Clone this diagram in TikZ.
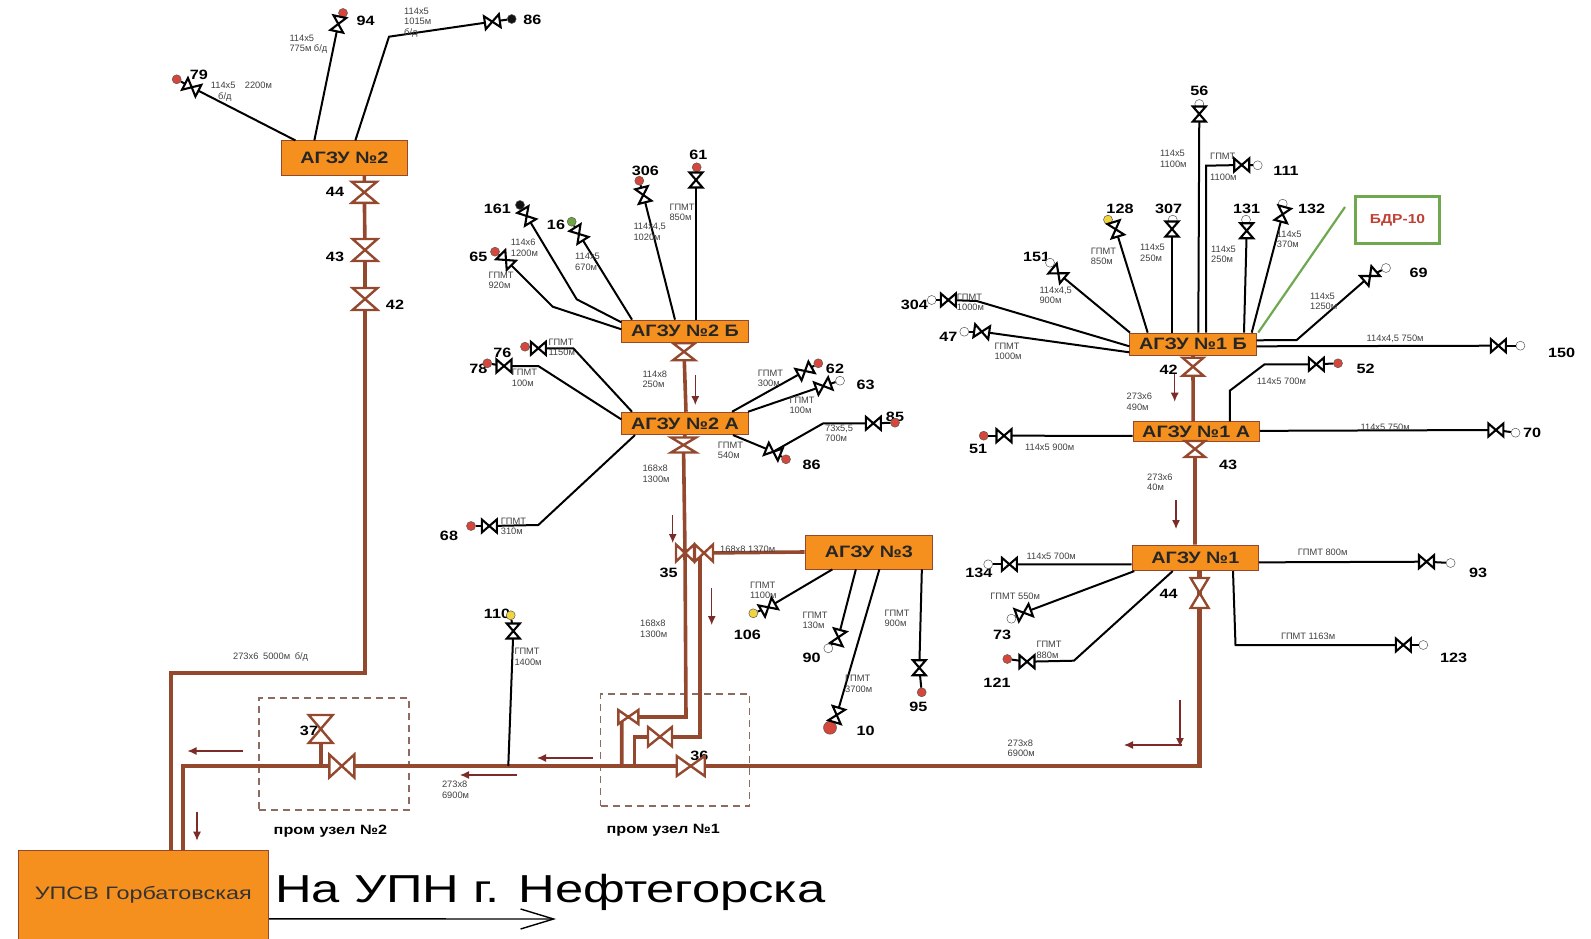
\documentclass[tikz,border=0pt]{standalone}
\usepackage{xcolor}
\usepackage{fontspec}
\setmainfont{Liberation Sans}
\newfontfamily\labelfont[FakeStretch=1.2]{Liberation Sans}
\newfontfamily\titlefont[FakeStretch=1.3]{Liberation Sans}
\usetikzlibrary{positioning, arrows.meta}
\definecolor{pipebrown}{HTML}{94492F}
\definecolor{flowred}{HTML}{7B2B28}
\definecolor{boxorange}{HTML}{F5901E}
\definecolor{framegray}{HTML}{8E6B60}
\definecolor{bdrgreen}{HTML}{6FA84F}
\definecolor{wellred}{HTML}{D5473A}
\definecolor{wellyellow}{HTML}{F2D53C}
\definecolor{wellgreen}{HTML}{6DA544}
\definecolor{wellblack}{HTML}{111111}
\tikzset{
    agzubox/.style={draw=pipebrown, line width=0.8pt, fill=boxorange, inner sep=0pt,
        minimum width=126.5pt, minimum height=22.5pt,
        font=\labelfont\bfseries\fontsize{16.5}{18}\selectfont, text=black!85},
    promframe/.style={draw=framegray, line width=1.2pt, dash pattern=on 7pt off 5pt},
    well/.style={circle, draw=black!65, line width=0.5pt, inner sep=0pt, minimum size=9pt},
    branch/.style={draw=black, line width=2pt},
    pipe/.style={draw=pipebrown, line width=3.6pt},
    flow/.style={draw=flowred, line width=1.2pt, -{Latex[length=9pt,width=8pt]}},
    note/.style={anchor=north west, inner sep=0pt, align=left, text=black!75,
        font=\fontsize{9.3}{10.3}\selectfont},
    numlabel/.style={inner sep=0pt, text=black,
        font=\labelfont\bfseries\fontsize{13.5}{14.5}\selectfont},
    wellvalve/.pic={\draw[black, line width=2.1pt, fill=white] (-7.5,-6.5) -- (7.5,6.5) -- (7.5,-6.5) -- (-7.5,6.5) -- cycle;},
    pipevalve/.pic={\draw[pipebrown, line width=2.4pt, fill=white] (-1,-1) -- (1,1) -- (1,-1) -- (-1,1) -- cycle;}
}
\def\welllist{79/191.7/87.3/-27/176.7/79.3/wellred, 94/338.3/24/78/343/13/wellred,
    86/492.3/21.7/8/511.7/19/wellblack, 161/526.7/216/-59/520/205/wellblack,
    16/579/234/-58/571.7/221.7/wellgreen, 65/506/260/-45/495/251.7/wellred,
    306/643.3/195/-76/639.3/180.7/wellred, 61/696/180/90/696.7/167.3/wellred,
    76/538.3/348.3/0/525/346.7/wellred, 78/504/366/0/487.3/363.3/wellred,
    62/805/371/29/818.3/363.3/wellred, 63/823.3/386/20/840/380.7/white,
    85/873.3/423.3/0/895/422.7/wellred, 87/773.3/451.7/-22/786/459.3/wellred,
    68/489.3/526/0/471/526/wellred, 56/1199.3/114/90/1199.3/104/white,
    111/1241.7/165/0/1257.7/165.3/white, 128/1115.7/229.3/-73/1108/219.7/wellyellow,
    307/1172/229/90/1172.7/219.7/white, 131/1246.7/230.7/90/1246/219.7/white,
    132/1282.7/214.3/75/1282.7/203.7/white, 151/1058.3/273.3/-40/1050/262.7/white,
    304/948.3/300/0/931.7/300/white, 47/981.7/331.7/-8/964.3/331.7/white,
    69/1370/276/41/1386/268/white, 150/1498.4/345.7/0/1520.4/345.7/white,
    52/1316.3/364.3/0/1338/363.3/wellred, 51/1004/435.7/0/983.7/435.7/wellred,
    70/1495.9/430/0/1515.5/432.7/white, 134/1009.4/564.3/0/988.2/564.3/white,
    73/1023.7/612.7/20/1011.4/618.7/white, 121/1027/661.7/0/1007.3/659/wellred,
    93/1426.5/561.7/0/1450.6/563/white, 123/1403.3/645/0/1423.3/645/white,
    106/768.3/607.3/30/753.3/613.3/wellyellow, 90/838.3/637.3/75/828.3/648.3/white,
    95/919.3/667.7/90/921.7/692.3/wellred, 110/513.3/631/90/510.7/615.3/wellyellow}
\def\pipevalves{v44/364.3/192.3/90/10.5/12.5, v43/365/250/90/11/12.5, v42/365/299/90/11/12.5,
    vb/684/351.7/90/8.5/11, va/683.5/445/90/7.5/12.5, vl/685/553/0/9/8.5, vr/704/553/0/9/8.5,
    vn/628.3/717/0/10/7, vm/660/736.7/0/12/9.7, vc/690.7/766/0/14/10,
    vp/341.8/766/0/12.5/11.5, vt/320.7/729/90/14/12,
    vx/1193/366.7/90/9/10.5, vy/1195/449/90/8/10, vz/1199.6/593/90/15/9}
\begin{document}
\begin{tikzpicture}[x=1pt, y=-1pt]
    \useasboundingbox (0,0) rectangle (1591,939);
    \foreach \n/\x/\y/\r/\dx/\dy/\c in \welllist {\coordinate (k\n) at (\x,\y);}
    \foreach \n/\x/\y/\r/\a/\b in \pipevalves {\coordinate (\n) at (\x,\y);}
    \coordinate (k10) at (836.7,715);
    % boxes
    \node[agzubox, minimum height=35pt] (agzu2) at (344.35,158.3) {АГЗУ №2};
    \node[agzubox] (agzu2b) at (685,331.3) {АГЗУ №2 Б};
    \node[agzubox] (agzu2a) at (685,423.4) {АГЗУ №2 А};
    \node[agzubox, minimum height=34pt, minimum width=127.7pt] (agzu3) at (868.85,552) {АГЗУ №3};
    \node[agzubox] (agzu1b) at (1193,344.3) {АГЗУ №1 Б};
    \node[agzubox, minimum height=20pt] (agzu1a) at (1196.15,431.85) {АГЗУ №1 А};
    \node[agzubox, minimum height=25.7pt] (agzu1) at (1195.3,557.85) {АГЗУ №1};
    \node[draw=pipebrown, fill=boxorange, line width=0.8pt, inner sep=0pt, minimum width=250.7pt,
        minimum height=88.3pt, text=black!80, font=\titlefont\fontsize{18}{20}\selectfont] (upsv) at (143.25,894.85) {УПСВ Горбатовская};
    \node[promframe, minimum width=149pt, minimum height=112pt] (prom1) at (675.3,750) {};
    \node[promframe, minimum width=150pt, minimum height=112pt] (prom2) at (334,754) {};
    \node[draw=bdrgreen, line width=2.4pt, minimum width=84pt, minimum height=47pt, inner sep=0pt,
        text=wellred!90!black, font=\labelfont\bfseries\fontsize{13}{14}\selectfont] (bdr) at (1397.5,220) {БДР-10};
    \coordinate (bdrend) at (1345,207);
    \draw[draw=bdrgreen, line width=2.2pt] ([xshift=1.5pt]agzu1b.north east) -- (bdrend);
    % pipes
    \draw[pipe] ([xshift=20pt]agzu2.south) -- (v44) -- (v43) -- (v42) -- (365,673) -- (171,673) -- ([xshift=27.75pt]upsv.north);
    \draw[pipe] ([xshift=-1pt]agzu2b.south) -- (vb) -- ([xshift=1pt]agzu2a.north);
    \draw[pipe] (agzu2a.south) -- (va) -- (vl) -- (686,717) -- (vn) -- (621.7,717) -- (621.7,766);
    \draw[pipe] (agzu3.west) -- (vr);
    \draw[pipe] (700,553) -- (700,736.7) -- (vm) -- (634.3,736.7) -- (634.3,766);
    \draw[pipe] (vt) -- (320.7,766);
    \draw[pipe] (vx) -- ([xshift=-3pt]agzu1a.north);
    \draw[pipe] (agzu1b.south) -- (vx);
    \draw[pipe] ([xshift=-1pt]agzu1a.south) -- (vy) -- ([xshift=-0.3pt]agzu1.north);
    \draw[pipe, line width=4.6pt] ([xshift=39.75pt]upsv.north) -- (183,766) -- (vp) -- (vc) -- (1199.6,766) -- (vz) -- ([xshift=4.3pt]agzu1.south);
    % branches
    \draw[branch] (k79) -- ([xshift=-49pt]agzu2.north);
    \draw[branch] (k94) -- ([xshift=-30pt]agzu2.north);
    \draw[branch] (k86) -- (389,36.7) -- ([xshift=11pt]agzu2.north);
    \draw[branch] (k161) -- (576.7,299.3) -- ([yshift=9pt]agzu2b.west);
    \draw[branch] (k65) -- (552.7,306.7) -- ([yshift=2pt]agzu2b.west);
    \draw[branch] (k16) -- ([xshift=-53pt]agzu2b.north);
    \draw[branch] (k306) -- ([xshift=-10pt]agzu2b.north);
    \draw[branch] (k61) -- ([xshift=11pt]agzu2b.north);
    \draw[branch] (k76) -- (573.3,348.3) -- ([xshift=-53pt]agzu2a.north);
    \draw[branch] (k78) -- (538.3,366) -- ([yshift=4pt]agzu2a.west);
    \draw[branch] (k62) -- ([xshift=47pt]agzu2a.north);
    \draw[branch] (k63) -- ([xshift=63pt]agzu2a.north);
    \draw[branch] (k87) -- ([xshift=48pt]agzu2a.south);
    \draw[branch] (k85) -- (823.3,423.3) -- (k87);
    \draw[branch] (k68) -- (538.3,525) -- ([xshift=-50pt]agzu2a.south);
    \draw[branch] (k56) -- ([xshift=5.3pt]agzu1b.north);
    \draw[branch] (k111) -- (1206,165.7) -- ([xshift=13pt]agzu1b.north);
    \draw[branch] (k128) -- ([xshift=-45.3pt]agzu1b.north);
    \draw[branch] (k307) -- ([xshift=-21pt]agzu1b.north);
    \draw[branch] (k131) -- ([xshift=51pt]agzu1b.north);
    \draw[branch] (k132) -- ([xshift=58.7pt]agzu1b.north);
    \draw[branch] (k151) -- ([xshift=-63pt]agzu1b.north);
    \draw[branch] (k304) -- (976.7,301) -- ([yshift=-2pt]agzu1b.west);
    \draw[branch] (k47) -- ([yshift=-8pt]agzu1b.west);
    \draw[branch] (k69) -- (1296.7,340) -- ([yshift=4pt]agzu1b.east);
    \draw[branch] (k150) -- ([yshift=-2pt]agzu1b.east);
    \draw[branch] (k52) -- (1264.5,364.3) -- (1229.8,390.7) -- ([xshift=33.6pt]agzu1a.north);
    \draw[branch] (k51) -- ([yshift=-4pt]agzu1a.west);
    \draw[branch] (k70) -- ([yshift=1pt]agzu1a.east);
    \draw[branch] (k134) -- ([yshift=-6.5pt]agzu1.west);
    \draw[branch] (k73) -- ([xshift=-61pt]agzu1.south);
    \draw[branch] (k121) -- (1073.9,660.7) -- ([xshift=-22.6pt]agzu1.south);
    \draw[branch] (k93) -- ([yshift=-4.5pt]agzu1.east);
    \draw[branch] (k123) -- (1235.5,645) -- ([xshift=37.7pt]agzu1.south);
    \draw[branch] (k106) -- ([xshift=-36.5pt]agzu3.south);
    \draw[branch] (k90) -- ([xshift=-13pt]agzu3.south);
    \draw[branch] (k10) -- ([xshift=10.5pt]agzu3.south);
    \draw[branch] (k95) -- ([xshift=53pt]agzu3.south);
    \draw[branch] (k110) -- (508.3,766);
    % flow arrows
    \foreach \ax/\ay/\bx/\by [count=\i] in {695.3/375/695.3/405, 672.7/515/672.7/543, 711.7/588/711.7/625,
        593/758/537/758, 516.7/775/460/775, 243/751/187.5/751, 197/811.7/197/840.7,
        1180/700/1180/747, 1182/745/1124/745, 1174.7/373/1174.7/401.7, 1176/500/1176/529} {
        \coordinate (fa\i) at (\ax,\ay);
        \coordinate (fb\i) at (\bx,\by);
        \draw[flow] (fa\i) -- (fb\i);
    }
    % pipe sizes
    \foreach \x/\y/\t [count=\i] in {210.7/85.7/{114х5\quad 2200м}, 218/96/{б/д}, 289.3/39/{114х5\\775м б/д},
        404/12/{114х5\\1015м\\б/д}, 510.7/243.3/{114х6\\1200м}, 575/257.3/{114х5\\670м},
        488.3/276/{ГПМТ\\920м}, 633.3/227.3/{114х4,5\\1020м}, 669.3/207.7/{ГПМТ\\850м},
        548.3/343/{ГПМТ\\1150м}, 511.7/373.3/{ГПМТ\\100м}, 757.7/374/{ГПМТ\\300м},
        789.3/401/{ГПМТ\\100м}, 825/429/{73х5,5\\700м}, 717.7/445.7/{ГПМТ\\540м},
        500.7/521.7/{ГПМТ\\310м}, 642.3/375/{114х8\\250м}, 642.3/469.3/{168х8\\1300м},
        1160/154.3/{114х5\\1100м}, 1210/156.7/{ГПМТ}, 1210/177.7/{1100м}, 1090.7/251.7/{ГПМТ\\850м},
        1140/248.3/{114х5\\250м}, 1211/249.7/{114х5\\250м}, 1276.7/235/{114х5\\370м},
        1039.3/290.7/{114х4,5\\900м}, 956.7/297.7/{ГПМТ\\1000м}, 994.3/346.7/{ГПМТ\\1000м},
        1310/297/{114х5\\1250м}, 1366.5/339.3/{114х4,5 750м}, 1256.7/382.3/{114х5 700м},
        1024.9/448/{114х5 900м}, 1360.4/427.7/{114х5 750м}, 1026.5/557/{114х5 700м},
        990.2/596.7/{ГПМТ 550м}, 1036.3/645.3/{ГПМТ\\880м}, 1297.6/552.7/{ГПМТ 800м},
        1280.8/637/{ГПМТ 1163м}, 1126.5/397.3/{273х6\\490м}, 1147/478/{273х6\\40м},
        1007.5/744/{273х8\\6900м}, 720/550/{168х8 1370м}, 640/624.3/{168х8\\1300м},
        750/585.7/{ГПМТ\\1100м}, 802.3/616/{ГПМТ\\130м}, 845/679.3/{ГПМТ\\3700м},
        884.3/614/{ГПМТ\\900м}, 514.3/652.3/{ГПМТ\\1400м}, 441.8/785/{273х8\\6900м},
        232.9/656.7/{273х6\enspace 5000м\enspace б/д}} {
        \node[note] (note\i) at (\x,\y-4) {\t};
    }
    % well and valve numbers
    \foreach \x/\y/\t [count=\i] in {199/75/79, 365.7/20.7/94, 532.3/20/86, 335/192.3/44, 335/257/43, 395/305/42,
        497.3/209.3/161, 556/225/16, 478.3/257.3/65, 645.3/170.7/306, 698.3/155/61, 502.3/352.7/76, 478.3/369.3/78,
        835/369/62, 865.7/385/63, 895/416.7/85, 811.7/465/86, 449/535.7/68, 1199.3/90.7/56, 1286/170.7/111,
        1120/209/128, 1168.7/209/307, 1246.7/209/131, 1311.7/209/132, 1036.7/256.7/151, 914.3/305/304, 948.3/336.7/47,
        1418.5/273/69, 1561.6/353.3/150, 1365.7/369/52, 978/449/51, 1532/432.7/70, 978.8/572.7/134, 1002/635/73,
        997/682.7/121, 1478/572.7/93, 1453.5/658.3/123, 1168.6/369.3/42, 1228.2/465/43, 1168.6/594/44,
        668.7/572.7/35, 747.3/635/106, 811.7/657.7/90, 865.7/731/10, 918.3/706.7/95, 497/614/110, 699.3/755.7/36,
        309/731/37, 663.3/830.7/{пром узел №1}, 330.4/830.7/{пром узел №2}} {
        \node[numlabel] (num\i) at (\x,\y) {\t};
    }
    % valves and wells
    \foreach \n/\x/\y/\r/\a/\b in \pipevalves {\pic[rotate=\r, xscale=\a, yscale=\b] at (\n) {pipevalve};}
    \foreach \n/\x/\y/\r/\dx/\dy/\c in \welllist {
        \node[well, fill=\c] (w\n) at (\dx,\dy) {};
        \draw[branch] (w\n) -- (k\n);
        \pic[rotate=\r] at (k\n) {wellvalve};
    }
    \node[well, fill=wellred, minimum size=13pt] (w10) at (830,727.7) {};
    \draw[branch] (w10) -- (k10);
    \pic[rotate=73] at (k10) {wellvalve};
    % outlet
    \node[anchor=west, inner sep=0pt, font=\titlefont\fontsize{39}{41}\selectfont] (upn) at (275,892) {На УПН г. Нефтегорска};
    \coordinate (upnend) at (556,919);
    \draw[black, line width=1.4pt, -{Straight Barb[length=33pt,width=20pt]}] ([yshift=-24pt]upsv.east) -- (upnend);
\end{tikzpicture}
\end{document}
